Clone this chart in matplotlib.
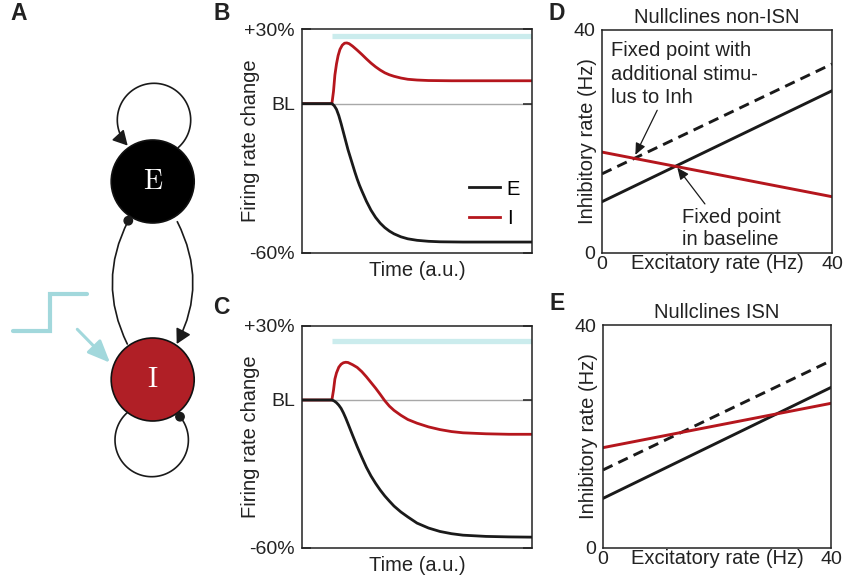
import numpy as np
import matplotlib
matplotlib.use('Agg')
import matplotlib.pyplot as plt
from matplotlib.patches import Circle, FancyArrowPatch
from matplotlib.path import Path

plt.rcParams['font.family'] = ['Liberation Sans', 'DejaVu Sans']

# ---------------- data ----------------
stim_on = 13
t_end = 100

# Panel B (non-ISN) firing-rate traces, % change from baseline
tB_E = [0, 13, 14, 15, 16, 17, 18, 19, 20, 21, 22, 23, 24, 25, 26, 28, 30, 32, 34, 36,
        38, 40, 43, 46, 50, 55, 60, 70, 80, 100]
vB_E = [0, 0, -0.8, -2.3, -4.8, -8, -11.5, -15, -18.5, -21.5, -24.5, -27.5, -30.3, -32.8,
        -35, -39.2, -42.8, -45.7, -48, -49.8, -51.2, -52.3, -53.5, -54.3, -54.9, -55.3,
        -55.5, -55.6, -55.6, -55.6]
tB_I = [0, 13, 13.7, 14.3, 15, 15.7, 16.5, 17.5, 18.5, 19.5, 20.5, 22, 24, 26, 28, 30,
        32, 34, 36, 38, 40, 43, 46, 50, 55, 65, 100]
vB_I = [0, 0, 5, 11.5, 16, 19.3, 21.8, 23.5, 24.3, 24.4, 24.1, 23.1, 21.5, 19.8, 18,
        16.3, 14.8, 13.5, 12.4, 11.6, 11, 10.3, 9.8, 9.5, 9.3, 9.2, 9.2]
barB = 27

# Panel C (ISN)
tC_E = [0, 13, 14, 15, 16, 17, 18, 19, 20, 22, 24, 26, 28, 30, 32, 34, 36, 38, 40, 43,
        46, 50, 55, 60, 65, 70, 80, 90, 100]
vC_E = [0, 0, -0.4, -1.1, -2.1, -3.4, -5.2, -7.3, -9.6, -14.3, -18.9, -23.2, -27.3,
        -30.8, -33.8, -36.5, -38.9, -41, -43, -45.4, -47.4, -49.9, -51.9, -53.3, -54.2,
        -54.8, -55.3, -55.5, -55.6]
tC_I = [0, 13, 13.7, 14.3, 15, 16, 17, 18, 19, 20, 22, 24, 26, 28, 30, 32, 34, 36, 38,
        40, 43, 46, 50, 55, 60, 65, 70, 80, 90, 100]
vC_I = [0, 0, 4, 8.5, 11, 13.3, 14.5, 15.1, 15.3, 15.2, 14.3, 13.2, 11.5, 9.4, 7.1, 4.8,
        2.3, -0.3, -2.5, -4.2, -6.2, -7.9, -9.4, -10.9, -12.0, -12.8, -13.3, -13.7,
        -13.9, -13.9]
barC = 24

trace_ticks = [-60, 0, 30]
trace_ticklabels = ['-60%', 'BL', '+30%']

# Panels D/E nullclines (Hz), values at excitatory rate 0 and 40
null_x = [0, 40]
D_black = [9.2, 29.1]
D_black_stim = [14.2, 33.9]
D_red = [18.1, 10.1]
E_black = [8.9, 28.8]
E_black_stim = [14.0, 33.6]
E_red = [18.0, 25.95]

# ---------------- style ----------------
C_E = '#1a1a1a'
C_I = '#b5161d'
C_IFILL = '#b01f26'
C_BAR = '#cbeced'
C_STEP = '#a2d8dc'
SP = '#222222'
FS = 14.5
TFS = 14

fig = plt.figure(figsize=(8.45, 5.81), dpi=100)

# ---------------- panel A (schematic) in pixel coordinates ----------------
axA = fig.add_axes([0, 0, 1, 1], zorder=0)
axA.set_xlim(0, 845)
axA.set_ylim(581, 0)
axA.axis('off')

lwA = 1.2
# nodes
axA.add_patch(Circle((152.7, 181.5), 41.5, facecolor='black', edgecolor='#111', lw=lwA, zorder=3))
axA.add_patch(Circle((152.7, 379.5), 41.5, facecolor=C_IFILL, edgecolor='#111', lw=lwA, zorder=3))
axA.text(152.7, 182, r'$\mathrm{E}$', color='white', fontsize=20, ha='center', va='center',
         math_fontfamily='cm', zorder=4)
axA.text(152.7, 380, r'$\mathrm{I}$', color='white', fontsize=20, ha='center', va='center',
         math_fontfamily='cm', zorder=4)

# E self loop (arrow)
th = np.deg2rad(np.linspace(48.3, -224.2, 80))
loop = np.column_stack([154 + 36.7 * np.cos(th), 120 + 36.7 * np.sin(th)])
axA.add_patch(FancyArrowPatch(path=Path(loop), arrowstyle='-|>,head_length=0.55,head_width=0.3',
                              mutation_scale=16, lw=lwA, color=C_E, zorder=2))
# I self loop (dot)
th = np.deg2rad(np.linspace(226.9, -39.5, 80))
loop = np.column_stack([151.7 + 36.7 * np.cos(th), 440 + 36.7 * np.sin(th)])
axA.plot(loop[:, 0], loop[:, 1], color=C_E, lw=lwA, zorder=2)
axA.add_patch(Circle((180, 416.7), 4.2, color=C_E, zorder=5))

# E -> I (right arc, arrow)
p = Path([(177.3, 221.7), (208.4, 283), (176.7, 344)], [Path.MOVETO, Path.CURVE3, Path.CURVE3])
axA.add_patch(FancyArrowPatch(path=p, arrowstyle='-|>,head_length=0.55,head_width=0.3',
                              mutation_scale=16, lw=lwA, color=C_E, zorder=2))
# I -> E (left arc, dot)
p = Path([(127.3, 344), (96.8, 282), (128.3, 220.7)], [Path.MOVETO, Path.CURVE3, Path.CURVE3])
axA.add_patch(FancyArrowPatch(path=p, arrowstyle='-', lw=lwA, color=C_E, zorder=2))
axA.add_patch(Circle((128.3, 220.7), 4.2, color=C_E, zorder=5))

# stimulus step + arrow
axA.plot([12.7, 50, 50, 86.7], [330.7, 330.7, 294, 294], color=C_STEP, lw=3,
         solid_capstyle='round', solid_joinstyle='miter')
axA.add_patch(FancyArrowPatch((77.3, 329.3), (110, 362.7),
                              arrowstyle='-|>,head_length=0.75,head_width=0.32',
                              mutation_scale=18, lw=2.2, color=C_STEP, shrinkA=0, shrinkB=0))

# panel letters
for lab, (x, y) in {'A': (19, 14), 'B': (222, 14), 'C': (221, 307),
                    'D': (557, 13), 'E': (557, 304)}.items():
    axA.text(x, y, lab, fontsize=16.5, fontweight='bold', ha='center', va='center', color='#222')


def style_box(ax):
    for s in ax.spines.values():
        s.set_color(SP)
        s.set_linewidth(1.1)


def trace_panel(ax, tE, vE, tI, vI, bar, legend=False):
    ax.axhline(0, color='#a8a8a8', lw=1.0, zorder=1)
    ax.hlines(bar, stim_on, t_end, color=C_BAR, lw=3.8, zorder=1)
    lI, = ax.plot(tI, vI, color=C_I, lw=2.0, zorder=2, label='I')
    lE, = ax.plot(tE, vE, color=C_E, lw=2.0, zorder=3, label='E')
    ax.set_xlim(0, t_end)
    ax.set_ylim(-60, 30)
    ax.set_yticks(trace_ticks)
    ax.set_yticklabels(trace_ticklabels)
    ax.set_xticks([])
    ax.tick_params(axis='y', direction='in', length=6.5, width=1.1, left=True, right=True,
                   labelsize=TFS, pad=5, colors=SP, labelcolor='#222')
    style_box(ax)
    ax.text(-0.226, 0.5, 'Firing rate change', rotation=90, ha='center', va='center',
            transform=ax.transAxes, fontsize=FS, color='#222')
    ax.text(0.5, -0.077, 'Time (a.u.)', ha='center', va='center', transform=ax.transAxes,
            fontsize=FS, color='#222')
    if legend:
        ax.legend([lE, lI], ['E', 'I'], loc='upper left', bbox_to_anchor=(0.728, 0.328),
                  frameon=False, handlelength=1.5, handletextpad=0.35, labelspacing=0.5,
                  borderpad=0, borderaxespad=0, fontsize=FS)


def null_panel(ax, black, black_stim, red, title):
    ax.plot(null_x, black, color=C_E, lw=2.1)
    ax.plot(null_x, black_stim, color=C_E, lw=2.1, linestyle=(0, (3.6, 2.2)))
    ax.plot(null_x, red, color=C_I, lw=2.1)
    ax.set_xlim(0, 40)
    ax.set_ylim(0, 40)
    ax.set_xticks([0, 40])
    ax.set_yticks([0, 40])
    ax.tick_params(axis='both', length=0, labelsize=TFS, colors='#222')
    ax.tick_params(axis='y', pad=5)
    ax.tick_params(axis='x', pad=2)
    style_box(ax)
    ax.set_title(title, fontsize=FS, pad=5, color='#222')
    ax.text(-0.065, 0.5, 'Inhibitory rate (Hz)', rotation=90, ha='center', va='center',
            transform=ax.transAxes, fontsize=FS, color='#222')
    ax.text(0.5, -0.045, 'Excitatory rate (Hz)', ha='center', va='center',
            transform=ax.transAxes, fontsize=FS, color='#222')


axB = fig.add_axes([302 / 845, 1 - 253 / 581, 230 / 845, 224 / 581], zorder=1)
trace_panel(axB, tB_E, vB_E, tB_I, vB_I, barB, legend=True)
axC = fig.add_axes([302 / 845, 1 - 548 / 581, 230 / 845, 222 / 581], zorder=1)
trace_panel(axC, tC_E, vC_E, tC_I, vC_I, barC)

axD = fig.add_axes([602 / 845, 1 - 253 / 581, 230 / 845, 223 / 581], zorder=1)
null_panel(axD, D_black, D_black_stim, D_red, 'Nullclines non-ISN')
axE = fig.add_axes([603 / 845, 1 - 548 / 581, 228 / 845, 223 / 581], zorder=1)
null_panel(axE, E_black, E_black_stim, E_red, 'Nullclines ISN')

# annotations in D
axD.text(1.57, 32.1, 'Fixed point with\nadditional stimu-\nlus to Inh', ha='left', va='center',
         fontsize=FS, linespacing=1.3, color='#222')
axD.annotate('', xy=(5.8, 17.6), xytext=(9.6, 25.6),
             arrowprops=dict(arrowstyle='-|>,head_length=0.5,head_width=0.22', lw=0.9,
                             color=C_E, mutation_scale=14, shrinkA=0, shrinkB=0))
axD.text(13.86, 4.4, 'Fixed point\nin baseline', ha='left', va='center', fontsize=FS,
         linespacing=1.2, color='#222')
axD.annotate('', xy=(13.1, 15.3), xytext=(17.9, 8.8),
             arrowprops=dict(arrowstyle='-|>,head_length=0.5,head_width=0.22', lw=0.9,
                             color=C_E, mutation_scale=14, shrinkA=0, shrinkB=0))

fig.savefig('out.png', dpi=100)
